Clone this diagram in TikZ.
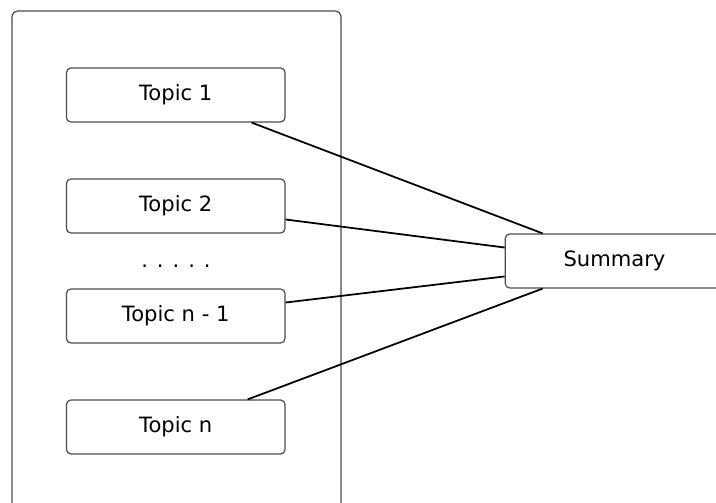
\documentclass[tikz,border=0pt]{standalone}
\usepackage{fontspec}
\setmainfont{DejaVu Sans}

\begin{document}
\begin{tikzpicture}[x=0.02cm,y=-0.02cm,font=\fontsize{12}{14}\selectfont,
  tp/.style={draw=black!70,rounded corners=2.5pt,line width=0.7pt,fill=white,minimum width=4.37cm,minimum height=1.08cm,inner sep=0pt},
  panel/.style={draw=black!70,rounded corners=3pt,line width=0.7pt,minimum width=6.58cm,minimum height=10.8cm,inner sep=0pt},
  lnk/.style={line width=1pt}]
  \useasboundingbox (0,0) rectangle (716,503);
  % left frame with the topics
  \node[panel] (frame) at (176.5,281) {};
  \foreach \t/\y/\n in {{Topic 1}/95/t1,{Topic 2}/206/t2,{Topic n - 1}/316/tn1,{Topic n}/427/tn} {
    \node[tp] (\n) at (175.75,\y) {\t};
  }
  \node (dots) at (176,266) {. . . . .};
  % summary
  \node[tp] (sum) at (614.5,261) {Summary};
  % links
  \draw[lnk] (t1.-20) -- (sum.159);
  \draw[lnk] (t2.-7) -- (sum.173);
  \draw[lnk] (tn1.7) -- (sum.188);
  \draw[lnk] (tn.21) -- (sum.201);
\end{tikzpicture}
\end{document}
